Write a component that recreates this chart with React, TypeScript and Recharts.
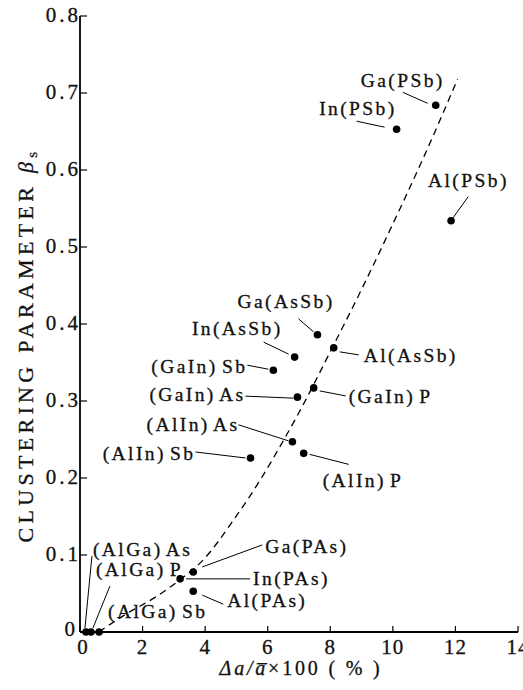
import { ScatterChart, Scatter, XAxis, YAxis, Label } from 'recharts';

const FONT = 'Liberation Serif, DejaVu Serif, serif';

// axis ticks
const xTicks = [0, 2, 4, 6, 8, 10, 12, 14];
const yTicks = [0, 0.1, 0.2, 0.3, 0.4, 0.5, 0.6, 0.7, 0.8];

// measured alloys: Δa/a x100 (%) and clustering parameter βs
const alloyNames = [
  'Ga(PSb)', 'In(PSb)', 'Al(PSb)',
  'Ga(AsSb)', 'In(AsSb)', 'Al(AsSb)',
  '(GaIn) Sb', '(GaIn) As', '(GaIn) P',
  '(AlIn) As', '(AlIn) P', '(AlIn) Sb',
  'Ga(PAs)', 'In(PAs)', 'Al(PAs)',
  '(AlGa) As', '(AlGa) P', '(AlGa) Sb',
];
const mismatch = [
  11.37, 10.12, 11.86,
  7.59, 6.86, 8.11,
  6.18, 6.95, 7.47,
  6.79, 7.15, 5.45,
  3.62, 3.2, 3.62,
  0.19, 0.35, 0.61,
];
const beta = [
  0.684, 0.653, 0.534,
  0.386, 0.357, 0.369,
  0.340, 0.305, 0.317,
  0.247, 0.232, 0.226,
  0.078, 0.069, 0.053,
  0, 0, 0,
];

// dashed trend curve
const curveX = [0.6, 1.5, 2.4, 3.2, 3.9, 4.9, 5.8, 6.45, 7, 8, 9, 10, 11, 12.07];
const curveY = [0, 0.024, 0.045, 0.068, 0.092, 0.145, 0.2, 0.245, 0.285, 0.364, 0.445, 0.53, 0.618, 0.718];

const points = alloyNames.map((name, i) => ({ name, x: mismatch[i], y: beta[i] }));
const curve = curveX.map((x, i) => ({ x, y: curveY[i] }));

// label placement relative to the dot (pixels)
type Lay = { anchor: 'start' | 'end'; tx: number; ty: number; leader?: number[] };
const layout: Record<string, Lay> = {
  'Ga(PSb)': { anchor: 'end', tx: 9, ty: -18, leader: [-33, -13, -8, -2] },
  'In(PSb)': { anchor: 'end', tx: 0, ty: -14, leader: [-40, -8, -12, -2] },
  'Al(PSb)': { anchor: 'start', tx: -23, ty: -34, leader: [17, -24, 2, -3] },
  'Ga(AsSb)': { anchor: 'start', tx: -80, ty: -27, leader: [-19, -16, -4, -3] },
  'In(AsSb)': { anchor: 'end', tx: -12, ty: -22, leader: [-31, -15, -6, -3] },
  'Al(AsSb)': { anchor: 'start', tx: 30, ty: 14, leader: [6, 4, 25, 7] },
  '(GaIn) Sb': { anchor: 'end', tx: -26, ty: 3, leader: [-26, -5, -5, -1] },
  '(GaIn) As': { anchor: 'end', tx: -52, ty: 4, leader: [-52, -1, -4, 1] },
  '(GaIn) P': { anchor: 'start', tx: 35, ty: 15, leader: [6, 3, 32, 8] },
  '(AlIn) As': { anchor: 'end', tx: -53, ty: -11, leader: [-54, -17, -4, -1] },
  '(AlIn) P': { anchor: 'start', tx: 19, ty: 34, leader: [6, 1, 45, 11] },
  '(AlIn) Sb': { anchor: 'end', tx: -55, ty: 2, leader: [-55, -6, -5, 0] },
  'Ga(PAs)': { anchor: 'start', tx: 72, ty: -19, leader: [9, -5, 69, -27] },
  'In(PAs)': { anchor: 'start', tx: 73, ty: 6, leader: [6, 0, 70, 0] },
  'Al(PAs)': { anchor: 'start', tx: 34, ty: 16, leader: [9, 4, 30, 13] },
  '(AlGa) As': { anchor: 'start', tx: 7, ty: -76, leader: [-1, -4, 6, -76] },
  '(AlGa) P': { anchor: 'start', tx: 5, ty: -56, leader: [2, -4, 19, -46] },
  '(AlGa) Sb': { anchor: 'start', tx: 9, ty: -14 },
};

const fmtY = (v: number) => (v === 0 ? '0' : v.toFixed(1));

const txt = { fontFamily: FONT, fill: '#111', stroke: '#111', strokeWidth: 0.3 };

function BottomTick(props: any) {
  const { x, y, payload } = props;
  return (
    <g>
      <line x1={x} y1={y} x2={x} y2={y - 6} stroke="#000" strokeWidth={1.2} />
      <text x={x + (payload.value === 0 ? 3 : 0)} y={y + 22} textAnchor="middle" fontSize={21} letterSpacing={1} style={txt}>
        {payload.value}
      </text>
    </g>
  );
}

function TopTick(props: any) {
  const { x, y } = props;
  return <line x1={x} y1={y} x2={x} y2={y + 6} stroke="#000" strokeWidth={1.2} />;
}

function LeftTick(props: any) {
  const { x, y, payload } = props;
  const zero = payload.value === 0;
  return (
    <g>
      <line x1={x} y1={y} x2={x + 7} y2={y} stroke="#000" strokeWidth={1.2} />
      <text x={zero ? x - 2 : x + 1} y={zero ? y + 4 : y + 6} textAnchor="end" fontSize={21} letterSpacing={3} style={txt}>
        {fmtY(payload.value)}
      </text>
    </g>
  );
}

function RightTick(props: any) {
  const { x, y } = props;
  return <line x1={x} y1={y} x2={x - 7} y2={y} stroke="#000" strokeWidth={1.2} />;
}

function Marker(props: any) {
  const { cx, cy, payload } = props;
  const lay = layout[payload.name];
  const l = lay.leader;
  return (
    <g>
      {l && <line x1={cx + l[0]} y1={cy + l[1]} x2={cx + l[2]} y2={cy + l[3]} stroke="#000" strokeWidth={1} />}
      <circle cx={cx} cy={cy} r={3.8} fill="#000" />
      <text
        x={cx + lay.tx}
        y={cy + lay.ty}
        textAnchor={lay.anchor}
        fontSize={19.5}
        letterSpacing={2.4}
        wordSpacing={-3}
        style={txt}
      >
        {payload.name}
      </text>
    </g>
  );
}

function XTitle(props: any) {
  const { viewBox } = props;
  const cx = viewBox.x + viewBox.width / 2 + 2;
  return (
    <text x={cx} y={viewBox.y + 43} textAnchor="middle" fontSize={20} letterSpacing={2.8} style={txt}>
      <tspan fontStyle="italic">{'Δa/a\u0305'}</tspan>
      <tspan>{'×100  ( % )'}</tspan>
    </text>
  );
}

function YTitle(props: any) {
  const { viewBox } = props;
  const x = 33;
  const y = viewBox.y + 329;
  return (
    <text
      x={x}
      y={y}
      transform={`rotate(-90 ${x} ${y})`}
      textAnchor="middle"
      fontSize={22}
      letterSpacing={4.3}
      style={txt}
    >
      CLUSTERING PARAMETER
      <tspan dx={10} fontStyle="italic">β</tspan>
      <tspan dy={4} fontSize={15}>s</tspan>
    </text>
  );
}

export default function App() {
  return (
    <div style={{ position: 'absolute', left: 0, top: 0, background: '#fff' }}>
      <ScatterChart width={523} height={690} margin={{ top: 16, right: 5, bottom: 0, left: 0 }}>
        <XAxis
          xAxisId="b"
          type="number"
          dataKey="x"
          domain={[0, 14]}
          ticks={xTicks}
          height={58}
          tickSize={0}
          tickMargin={0}
          tick={<BottomTick />}
          axisLine={{ stroke: '#000', strokeWidth: 1.8 }}
          interval={0}
        >
          <Label content={<XTitle />} />
        </XAxis>
        <XAxis
          xAxisId="t"
          orientation="top"
          type="number"
          dataKey="x"
          domain={[0, 14]}
          ticks={xTicks}
          height={0}
          tickSize={0}
          tickMargin={0}
          tick={<TopTick />}
          axisLine={{ stroke: '#000', strokeWidth: 1.5 }}
          interval={0}
        />
        <YAxis
          yAxisId="l"
          type="number"
          dataKey="y"
          domain={[0, 0.8]}
          ticks={yTicks}
          width={80}
          tickSize={0}
          tickMargin={0}
          tick={<LeftTick />}
          axisLine={{ stroke: '#000', strokeWidth: 1.8 }}
          interval={0}
        >
          <Label content={<YTitle />} />
        </YAxis>
        <YAxis
          yAxisId="r"
          orientation="right"
          type="number"
          dataKey="y"
          domain={[0, 0.8]}
          ticks={yTicks}
          width={0}
          tickSize={0}
          tickMargin={0}
          tick={<RightTick />}
          axisLine={{ stroke: '#000', strokeWidth: 1.5 }}
          interval={0}
        />
        <Scatter
          xAxisId="t"
          yAxisId="r"
          data={curve}
          fill="#000"
          line={{ stroke: '#000', strokeWidth: 1.3, strokeDasharray: '7 5' }}
          lineType="joint"
          lineJointType="monotoneX"
          shape={() => <g />}
          isAnimationActive={false}
        />
        <Scatter
          xAxisId="b"
          yAxisId="l"
          data={points}
          fill="#000"
          shape={(p: any) => <Marker {...p} />}
          isAnimationActive={false}
        />
      </ScatterChart>
    </div>
  );
}
